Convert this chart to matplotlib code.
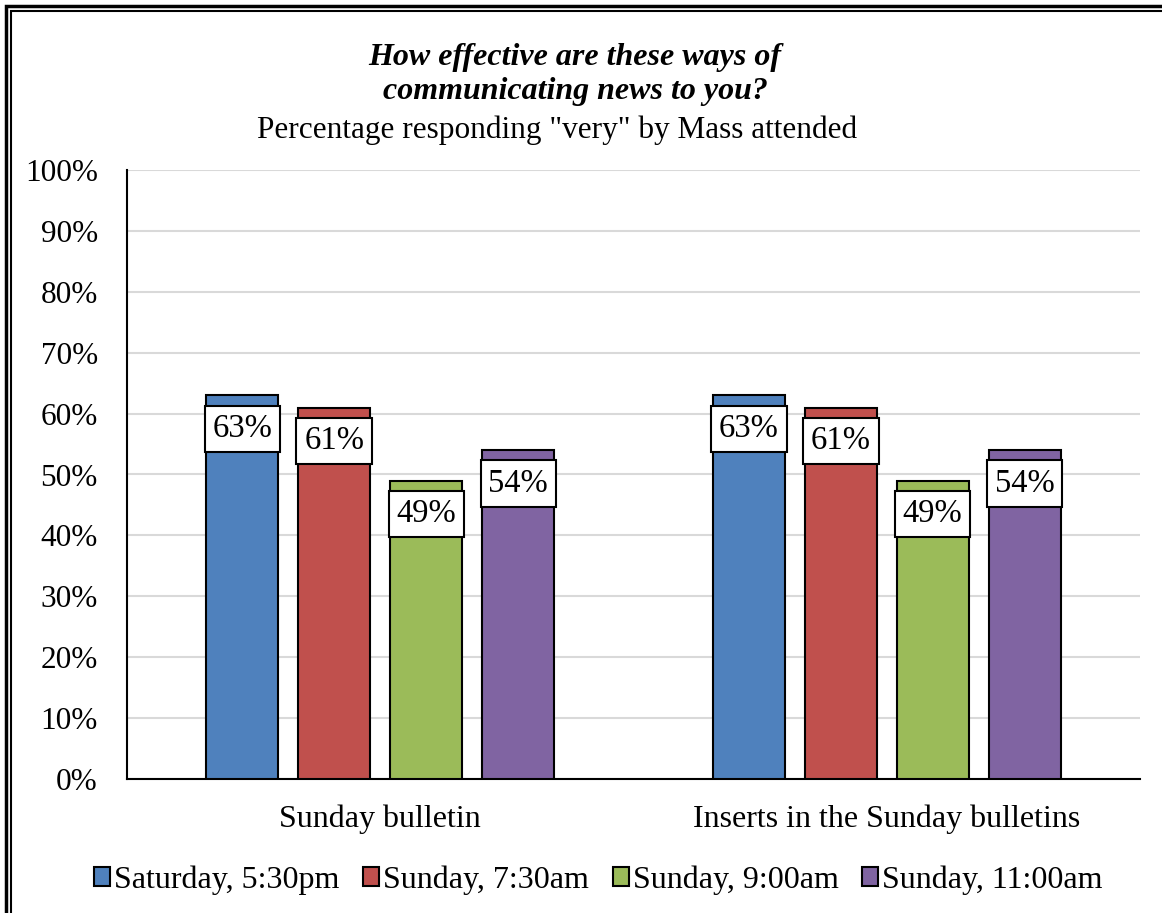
import matplotlib.pyplot as plt
import numpy as np
from matplotlib.patches import Rectangle

plt.rcParams['font.family'] = ['Liberation Serif', 'DejaVu Serif']

categories = ["Sunday bulletin", "Inserts in the Sunday bulletins"]
series = ["Saturday, 5:30pm", "Sunday, 7:30am", "Sunday, 9:00am", "Sunday, 11:00am"]
values = [
    [63, 63],
    [61, 61],
    [49, 49],
    [54, 54],
]
colors = ["#4f81bd", "#c0504d", "#9bbb59", "#8064a2"]

fig = plt.figure(figsize=(11.62, 9.13), dpi=100)
ax = fig.add_axes([127 / 1162, 1 - 779 / 913, 1013 / 1162, 609 / 913])

x = np.arange(len(categories))
width = 0.142
step = 0.1816

for i, (name, vals, c) in enumerate(zip(series, values, colors)):
    pos = x + (i - 1.5) * step
    ax.bar(pos, vals, width, color=c, edgecolor="black", linewidth=1.5,
           label=name, zorder=3)
    for px, v in zip(pos, vals):
        ax.annotate(f"{v}%", (px, v), xytext=(0, -24), textcoords="offset points",
                    ha="center", va="center", fontsize=23.5, zorder=5,
                    bbox=dict(boxstyle="square,pad=0.24", fc="white",
                              ec="black", lw=1.5))

ax.set_xlim(-0.5, 1.5)
ax.set_ylim(0, 100)
ax.set_yticks(np.arange(0, 101, 10))
ax.set_yticklabels([f"{t}%" for t in range(0, 101, 10)], fontsize=22.5)
ax.set_xticks(x)
ax.set_xticklabels(categories, fontsize=23)
ax.tick_params(length=0)
ax.tick_params(axis="y", pad=21)
ax.tick_params(axis="x", pad=18)
ax.yaxis.grid(True, color="#d9d9d9", linewidth=1.5, zorder=0)
ax.set_axisbelow(True)
for s in ["top", "right"]:
    ax.spines[s].set_visible(False)
ax.spines["left"].set_linewidth(1.5)
ax.spines["bottom"].set_linewidth(1.5)

fig.text(0.495, 1 - 57 / 913, "How effective are these ways of", ha="center", va="center",
         fontsize=23, fontweight="bold", fontstyle="italic")
fig.text(0.495, 1 - 91 / 913, "communicating news to you?", ha="center", va="center",
         fontsize=23, fontweight="bold", fontstyle="italic")
fig.text(0.479, 1 - 130 / 913, 'Percentage responding "very" by Mass attended',
         ha="center", va="center", fontsize=22.5)

leg = fig.legend(loc="center", bbox_to_anchor=(0.515, 1 - 880 / 913), ncol=4,
                 frameon=False, fontsize=23, handlelength=0.5, handleheight=0.5,
                 handletextpad=0.12, columnspacing=0.75)

# double border along the top and left edges
fig.patches.append(Rectangle((6 / 1162, -0.1), 1.2, 1 - 6 / 913 + 0.1, transform=fig.transFigure,
                             fill=False, ec="black", lw=2.5))
fig.patches.append(Rectangle((11 / 1162, -0.1), 1.2, 1 - 11 / 913 + 0.1, transform=fig.transFigure,
                             fill=False, ec="black", lw=1.5))

fig.savefig("out.png", dpi=100)
